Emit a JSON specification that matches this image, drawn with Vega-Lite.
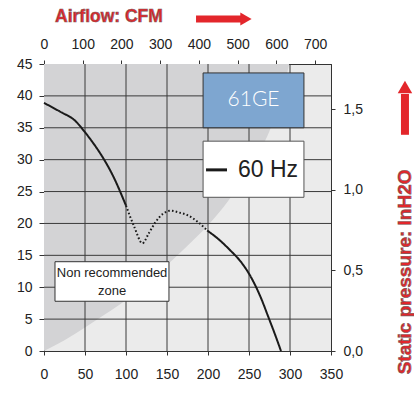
{
  "$schema": "https://vega.github.io/schema/vega-lite/v6.json",
  "width": 287,
  "height": 287,
  "autosize": "none",
  "padding": {"left": 44, "top": 64, "right": 83, "bottom": 63},
  "background": "white",
  "config": {
    "view": {"stroke": "#333", "strokeWidth": 1, "fill": "#ebebeb"},
    "axis": {"labelFont": "Liberation Sans", "labelFontSize": 14, "labelColor": "#222", "tickColor": "#333", "domainColor": "#333", "grid": false, "title": null, "labelFlush": false, "labelOverlap": false, "labelBound": false}
  },
  "datasets": {
    "zone": [
      {"x": 0, "y": 0}, {"x": 25, "y": 1.7}, {"x": 50, "y": 3.7}, {"x": 75, "y": 5.8},
      {"x": 100, "y": 8}, {"x": 125, "y": 10.8}, {"x": 150, "y": 13.5}, {"x": 175, "y": 16.5},
      {"x": 200, "y": 19.7}, {"x": 225, "y": 23.6}, {"x": 250, "y": 28.5}, {"x": 275, "y": 34.5},
      {"x": 288, "y": 39}, {"x": 299, "y": 45}
    ],
    "gridx": [{"x": 50}, {"x": 100}, {"x": 150}, {"x": 200}, {"x": 250}, {"x": 300}],
    "gridy": [{"y": 5}, {"y": 10}, {"y": 15}, {"y": 20}, {"y": 25}, {"y": 30}, {"y": 35}, {"y": 40}],
    "curve": [
      {"x": 0, "y": 38.9, "part": "a", "style": "solid"},
      {"x": 20, "y": 37.5, "part": "a", "style": "solid"},
      {"x": 38, "y": 36.1, "part": "a", "style": "solid"},
      {"x": 50, "y": 34.3, "part": "a", "style": "solid"},
      {"x": 60, "y": 32.6, "part": "a", "style": "solid"},
      {"x": 69, "y": 30.9, "part": "a", "style": "solid"},
      {"x": 84, "y": 27.5, "part": "a", "style": "solid"},
      {"x": 100, "y": 22.8, "part": "a", "style": "solid"},
      {"x": 100, "y": 22.8, "part": "b", "style": "dotted"},
      {"x": 110, "y": 19.5, "part": "b", "style": "dotted"},
      {"x": 120, "y": 16.9, "part": "b", "style": "dotted"},
      {"x": 128, "y": 18.5, "part": "b", "style": "dotted"},
      {"x": 136, "y": 20.2, "part": "b", "style": "dotted"},
      {"x": 145, "y": 21.5, "part": "b", "style": "dotted"},
      {"x": 154, "y": 22, "part": "b", "style": "dotted"},
      {"x": 165, "y": 21.7, "part": "b", "style": "dotted"},
      {"x": 175, "y": 21.3, "part": "b", "style": "dotted"},
      {"x": 188, "y": 20.2, "part": "b", "style": "dotted"},
      {"x": 199, "y": 18.9, "part": "b", "style": "dotted"},
      {"x": 199, "y": 18.9, "part": "c", "style": "solid"},
      {"x": 214, "y": 17.4, "part": "c", "style": "solid"},
      {"x": 227, "y": 15.8, "part": "c", "style": "solid"},
      {"x": 240, "y": 14, "part": "c", "style": "solid"},
      {"x": 251, "y": 11.9, "part": "c", "style": "solid"},
      {"x": 264, "y": 8.5, "part": "c", "style": "solid"},
      {"x": 274, "y": 5.2, "part": "c", "style": "solid"},
      {"x": 282, "y": 2.5, "part": "c", "style": "solid"},
      {"x": 289, "y": 0, "part": "c", "style": "solid"}
    ],
    "m3h": [{"x": 0}, {"x": 350}],
    "pa": [{"y": 0}, {"y": 45}],
    "cfm": [{"cfm": 0}, {"cfm": 700}],
    "inh2o": [{"p": 0}, {"p": 1.5}]
  },
  "layer": [
    {
      "encoding": {
        "x": {"field": "x", "type": "quantitative", "scale": {"domain": [0, 350], "nice": false, "zero": false}, "axis": null},
        "y": {"field": "y", "type": "quantitative", "scale": {"domain": [0, 45], "nice": false, "zero": false}, "axis": null}
      },
      "layer": [
        {
          "data": {"name": "zone"},
          "mark": {"type": "area", "fill": "#d3d3d5", "interpolate": "monotone"},
          "encoding": {"y2": {"datum": 45}}
        },
        {
          "data": {"name": "gridx"},
          "mark": {"type": "rule", "stroke": "#3a3a3a", "strokeWidth": 1},
          "encoding": {"y": {"value": 0}, "y2": {"value": 287}}
        },
        {
          "data": {"name": "gridy"},
          "mark": {"type": "rule", "stroke": "#3a3a3a", "strokeWidth": 1},
          "encoding": {"x": {"value": 0}, "x2": {"value": 287}}
        },
        {
          "data": {"name": "curve"},
          "mark": {"type": "line", "stroke": "#1a1a1a", "strokeWidth": 2, "interpolate": "monotone"},
          "encoding": {
            "detail": {"field": "part"},
            "strokeDash": {"field": "style", "type": "nominal", "scale": {"domain": ["solid", "dotted"], "range": [[1, 0], [1.6, 2.2]]}, "legend": null}
          }
        },
        {
          "data": {"values": [{"x": 194, "x2": 317, "y": 43.6, "y2": 35.0}]},
          "mark": {"type": "rect", "fill": "#7ea6d0", "stroke": "#333", "strokeWidth": 1},
          "encoding": {"x2": {"field": "x2"}, "y2": {"field": "y2"}}
        },
        {
          "data": {"values": [{"x": 255.5, "y": 39.3, "label": "61GE"}]},
          "mark": {"type": "text", "fill": "white", "fontSize": 21, "font": "Lato", "fontWeight": 300, "align": "center", "baseline": "middle"},
          "encoding": {"text": {"field": "label"}}
        },
        {
          "data": {"values": [{"x": 194, "x2": 317, "y": 32.9, "y2": 24.1}]},
          "mark": {"type": "rect", "fill": "white", "stroke": "#555", "strokeWidth": 1},
          "encoding": {"x2": {"field": "x2"}, "y2": {"field": "y2"}}
        },
        {
          "data": {"values": [{"x": 197.6, "x2": 223.2, "y": 28.4}]},
          "mark": {"type": "rule", "stroke": "#1a1a1a", "strokeWidth": 3},
          "encoding": {"x2": {"field": "x2"}}
        },
        {
          "data": {"values": [{"x": 236.6, "y": 28.4, "label": "60 Hz"}]},
          "mark": {"type": "text", "fill": "#222", "fontSize": 23, "font": "Liberation Sans", "align": "left", "baseline": "middle"},
          "encoding": {"text": {"field": "label"}}
        },
        {
          "data": {"values": [{"x": 13.4, "x2": 152.4, "y": 14.0, "y2": 7.8}]},
          "mark": {"type": "rect", "fill": "white", "stroke": "#333", "strokeWidth": 1},
          "encoding": {"x2": {"field": "x2"}, "y2": {"field": "y2"}}
        },
        {
          "data": {"values": [{"x": 83, "y": 12.2, "label": "Non recommended"}, {"x": 83, "y": 9.4, "label": "zone"}]},
          "mark": {"type": "text", "fill": "#222", "fontSize": 13, "font": "Liberation Sans", "align": "center", "baseline": "middle"},
          "encoding": {"text": {"field": "label"}}
        },
        {
          "data": {"values": [{"x": 13.4, "y": 52.3, "label": "Airflow: CFM"}]},
          "mark": {"type": "text", "fill": "#e3262b", "stroke": "#7a5a5a", "strokeWidth": 0.6, "fontSize": 17.5, "font": "Liberation Sans", "fontWeight": "bold", "align": "left", "baseline": "middle"},
          "encoding": {"text": {"field": "label"}}
        },
        {
          "data": {"values": [{"x": 185.4, "x2": 241, "y": 52.05}]},
          "mark": {"type": "rule", "stroke": "#e3262b", "strokeWidth": 7},
          "encoding": {"x2": {"field": "x2"}}
        },
        {
          "data": {"values": [{"x": 246.3, "y": 52.05}]},
          "mark": {"type": "point", "shape": "triangle-right", "filled": true, "fill": "#e3262b", "opacity": 1, "size": 170}
        },
        {
          "data": {"values": [{"x": 440.2, "y": 12.4, "label": "Static pressure: InH2O"}]},
          "mark": {"type": "text", "fill": "#e3262b", "stroke": "#7a5a5a", "strokeWidth": 0.6, "fontSize": 19, "font": "Liberation Sans", "fontWeight": "bold", "angle": 270, "align": "center", "baseline": "middle"},
          "encoding": {"text": {"field": "label"}}
        },
        {
          "data": {"values": [{"x": 440.2, "y": 33.9, "y2": 40.3}]},
          "mark": {"type": "rule", "stroke": "#e3262b", "strokeWidth": 8},
          "encoding": {"y2": {"field": "y2"}}
        },
        {
          "data": {"values": [{"x": 440.2, "y": 41.4}]},
          "mark": {"type": "point", "shape": "triangle-up", "filled": true, "fill": "#e3262b", "opacity": 1, "size": 210}
        }
      ]
    },
    {
      "data": {"name": "m3h"},
      "mark": {"type": "point", "opacity": 0},
      "encoding": {
        "x": {"field": "x", "type": "quantitative", "scale": {"domain": [0, 350], "nice": false, "zero": false},
              "axis": {"orient": "bottom", "values": [0, 50, 100, 150, 200, 250, 300, 350], "tickSize": 4, "labelPadding": 12, "title": null}}
      }
    },
    {
      "data": {"name": "pa"},
      "mark": {"type": "point", "opacity": 0},
      "encoding": {
        "y": {"field": "y", "type": "quantitative", "scale": {"domain": [0, 45], "nice": false, "zero": false},
              "axis": {"orient": "left", "values": [0, 5, 10, 15, 20, 25, 30, 35, 40, 45], "tickSize": 5, "labelPadding": 7, "title": null}}
      }
    },
    {
      "data": {"name": "cfm"},
      "mark": {"type": "point", "opacity": 0},
      "encoding": {
        "x": {"field": "cfm", "type": "quantitative", "scale": {"domain": [0, 741], "nice": false, "zero": false},
              "axis": {"orient": "top", "values": [0, 100, 200, 300, 400, 500, 600, 700], "tickSize": 4, "labelPadding": 9, "title": null}}
      }
    },
    {
      "data": {"name": "inh2o"},
      "mark": {"type": "point", "opacity": 0},
      "encoding": {
        "y": {"field": "p", "type": "quantitative", "scale": {"domain": [0, 1.782], "nice": false, "zero": false},
              "axis": {"orient": "right", "values": [0, 0.5, 1, 1.5], "labelExpr": "replace(format(datum.value, '.1f'), '.', ',')", "tickSize": 4, "labelPadding": 8, "title": null}}
      }
    }
  ],
  "resolve": {"scale": {"x": "independent", "y": "independent"}}
}
